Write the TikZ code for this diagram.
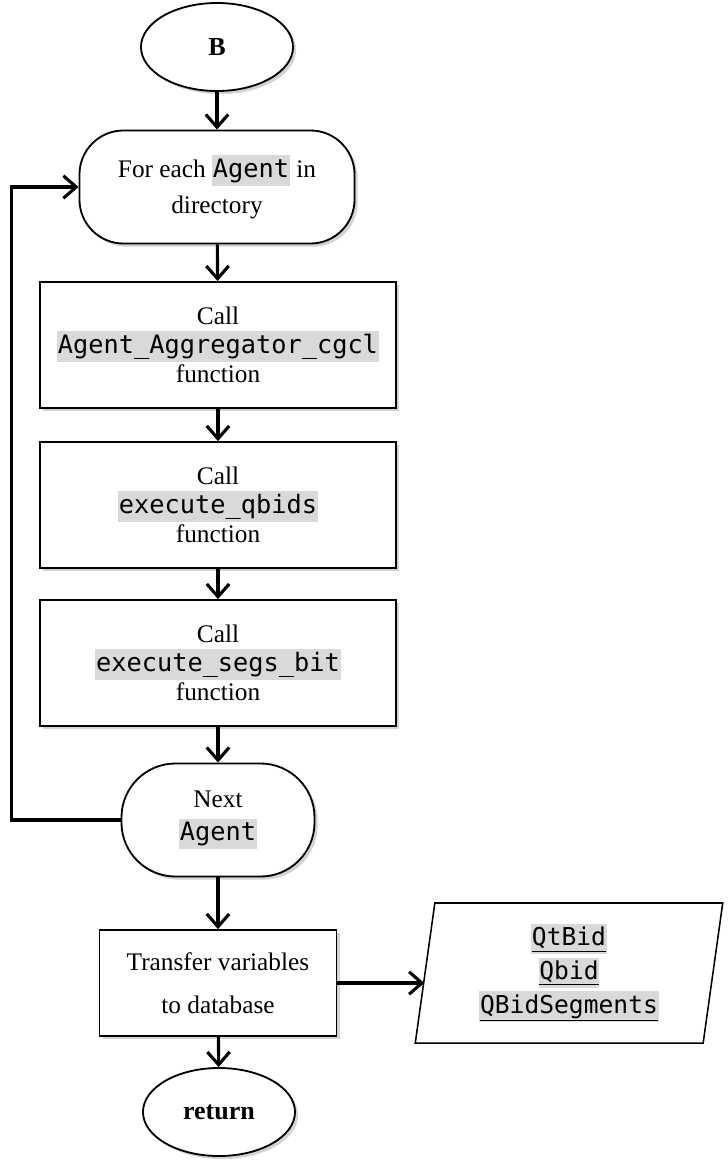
\documentclass[tikz,border=0pt]{standalone}
\usepackage{fontspec}
\setmainfont{Liberation Serif}
\setmonofont{DejaVu Sans Mono}
\usepackage{tikz}
\usetikzlibrary{arrows.meta,positioning,shapes.geometric,shadows}
\definecolor{ink}{HTML}{000000}
\definecolor{codebg}{HTML}{D9D9D9}
\newcommand{\code}[1]{{\setlength{\fboxsep}{0.6pt}\colorbox{codebg}{\ttfamily\rule[-.3em]{0pt}{1.15em}#1}}}
\newcommand{\ucode}[1]{\code{\underline{#1}}}
\tikzset{
  shade box/.style={drop shadow={shadow xshift=2.2pt, shadow yshift=-2.2pt, opacity=.35}},
  callbox/.style={draw=ink, line width=1.3pt, fill=white, align=center, shade box,
    minimum width=8.9cm, minimum height=3.15cm, font=\fontsize{18}{20.6}\selectfont},
  loopbox/.style={draw=ink, line width=1.3pt, fill=white, align=center, shade box,
    rounded corners=1.1cm, minimum height=2.825cm},
  term/.style={ellipse, draw=ink, line width=1.3pt, fill=white, shade box,
    minimum width=3.8cm, minimum height=2.2cm, font=\fontsize{18.5}{20}\selectfont\bfseries},
  datab/.style={trapezium, trapezium left angle=82.7, trapezium right angle=97.3,
    trapezium stretches=true, draw=ink, line width=1.1pt, fill=white, align=center,
    minimum width=7.7cm, minimum height=3.5cm, font=\fontsize{17.5}{24}\selectfont},
  flow/.style={draw=ink, line width=2.2pt, -{Straight Barb[length=3.2mm,width=5.6mm]}},
}

\begin{document}
\begin{tikzpicture}[x=0.025cm, y=-0.025cm]
\useasboundingbox (0,0) rectangle (728,1160);
% main column
\node[term] (start) at (217,47) {B};
\node[loopbox, minimum width=6.875cm, font=\fontsize{18}{26}\selectfont] (foreach) at (217,187)
  {For each \code{Agent} in\\directory};
\node[callbox] (aggr) at (218,345) {Call\\\code{Agent\_Aggregator\_cgcl}\\function};
\node[callbox] (qbids) at (218,505) {Call\\\code{execute\_qbids}\\function};
\node[callbox] (segs) at (218,663) {Call\\\code{execute\_segs\_bit}\\function};
\node[loopbox, rounded corners=1.35cm, minimum width=4.825cm, font=\fontsize{18}{24}\selectfont] (next) at (218,820)
  {Next\\\code{Agent}};
\node[callbox, minimum width=5.925cm, minimum height=2.65cm, font=\fontsize{18}{30.5}\selectfont] (transfer) at (218,983)
  {Transfer variables\\to database};
\node[term] (done) at (219,1112) {return};
% output data
\node[datab] (vars) at (569,973) {\ucode{QtBid}\\\ucode{Qbid}\\\ucode{QBidSegments}};

\draw[flow] (start) -- (foreach);
\draw[flow] (foreach) -- (aggr);
\draw[flow] (aggr) -- (qbids);
\draw[flow] (qbids) -- (segs);
\draw[flow] (segs) -- (next);
\draw[flow] (next.west) -- ++(-109,0) |- (foreach.west);
\draw[flow] (next) -- (transfer);
\draw[flow] (transfer) -- (done);
\draw[flow] (transfer.east) -- (transfer.east -| vars.west);
\end{tikzpicture}
\end{document}
